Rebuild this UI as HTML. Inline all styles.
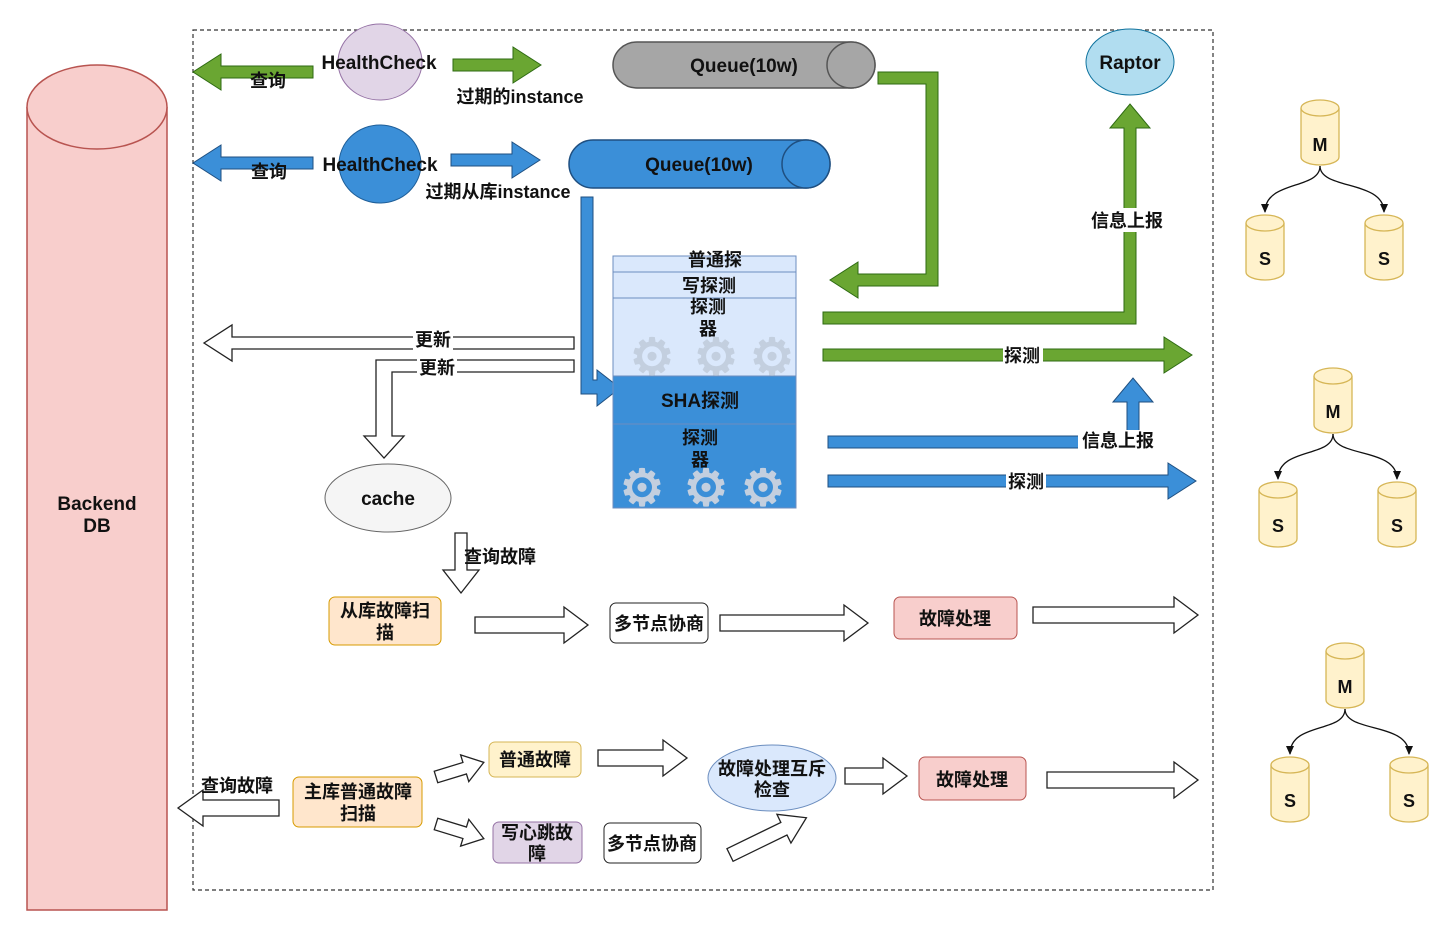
<!DOCTYPE html>
<html><head><meta charset="utf-8"><style>
html,body{margin:0;padding:0;background:#fff}
svg{display:block}
text{font-family:"Liberation Sans","Noto Sans CJK SC",sans-serif;font-weight:bold;fill:#111}
</style></head><body>
<svg width="1452" height="926" viewBox="0 0 1452 926" xmlns="http://www.w3.org/2000/svg">
<rect x="193" y="30" width="1020" height="860" fill="none" stroke="#333" stroke-width="1.2" stroke-dasharray="4,3"/>
<!-- Backend DB -->
<path d="M27,107 L27,910 L167,910 L167,107" fill="#f8cecc" stroke="#b85450" stroke-width="1.5"/>
<ellipse cx="97" cy="107" rx="70" ry="42" fill="#f8cecc" stroke="#b85450" stroke-width="1.5"/>
<text x="97" y="510" font-size="19" text-anchor="middle">Backend</text>
<text x="97" y="532" font-size="19" text-anchor="middle">DB</text>

<!-- green row -->
<polygon points="313,66 221,66 221,54 193,72 221,90 221,78 313,78" fill="#6aa632" stroke="#2d6a12"/>
<text x="268" y="87" font-size="18" text-anchor="middle">查询</text>
<ellipse cx="380" cy="62" rx="42" ry="38" fill="#e1d5e7" stroke="#9673a6"/>
<text x="379" y="69" font-size="19" text-anchor="middle">HealthCheck</text>
<polygon points="453,59 513,59 513,47 541,65 513,83 513,71 453,71" fill="#6aa632" stroke="#2d6a12"/>
<text x="520" y="103" font-size="18" text-anchor="middle">过期的instance</text>
<path d="M637,42 L851,42 A24,23 0 0 1 851,88 L637,88 A24,23 0 0 1 637,42 Z" fill="#a6a6a6" stroke="#555" stroke-width="1.5"/>
<ellipse cx="851" cy="65" rx="24" ry="23" fill="#a6a6a6" stroke="#555" stroke-width="1.5"/>
<text x="744" y="72" font-size="19" text-anchor="middle">Queue(10w)</text>

<!-- blue row -->
<polygon points="313,157 221,157 221,145 193,163 221,181 221,169 313,169" fill="#3b8fd8" stroke="#1f4f80"/>
<text x="269" y="178" font-size="18" text-anchor="middle">查询</text>
<ellipse cx="380" cy="164" rx="41" ry="39" fill="#3b8fd8" stroke="#1f5f99"/>
<text x="380" y="171" font-size="19" text-anchor="middle">HealthCheck</text>
<polygon points="451,154 512,154 512,142 540,160 512,178 512,166 451,166" fill="#3b8fd8" stroke="#1f4f80"/>
<text x="498" y="198" font-size="18" text-anchor="middle">过期从库instance</text>
<path d="M593,140 L806,140 A24,24 0 0 1 806,188 L593,188 A24,24 0 0 1 593,140 Z" fill="#3b8fd8" stroke="#1f4f80" stroke-width="1.5"/>
<ellipse cx="806" cy="164" rx="24" ry="24" fill="#3b8fd8" stroke="#1f4f80" stroke-width="1.5"/>
<text x="699" y="171" font-size="19" text-anchor="middle">Queue(10w)</text>
<polygon points="581,197 593,197 593,380 597,380 597,370 620,388 597,406 597,394 581,394" fill="#3b8fd8" stroke="#1f4f80"/>

<!-- green elbow from queue -->
<polygon points="878,72 938,72 938,286 858,286 858,298 830,280 858,262 858,274 926,274 926,84 878,84" fill="#6aa632" stroke="#2d6a12"/>

<!-- probe box -->
<rect x="613" y="256" width="183" height="16" fill="#dae8fc" stroke="#6c8ebf"/>
<rect x="613" y="272" width="183" height="26" fill="#dae8fc" stroke="#6c8ebf"/>
<rect x="613" y="298" width="183" height="78" fill="#dae8fc" stroke="#6c8ebf"/>
<rect x="613" y="376" width="183" height="48" fill="#3b8fd8" stroke="#6c8ebf"/>
<rect x="613" y="424" width="183" height="84" fill="#3b8fd8" stroke="#6c8ebf"/>
<text x="715" y="266" font-size="18" text-anchor="middle">普通探</text>
<text x="709" y="292" font-size="18" text-anchor="middle">写探测</text>
<text x="708" y="313" font-size="18" text-anchor="middle">探测</text>
<text x="708" y="335" font-size="18" text-anchor="middle">器</text>
<g font-size="50" text-anchor="middle" style="font-family:'DejaVu Sans',sans-serif;font-weight:normal">
<text x="652" y="374" style="fill:#c3cfdf">⚙</text><text x="716" y="374" style="fill:#c3cfdf">⚙</text><text x="772" y="374" style="fill:#c3cfdf">⚙</text>
<text x="642" y="505" style="fill:#c3cfdf">⚙</text><text x="706" y="505" style="fill:#c3cfdf">⚙</text><text x="763" y="505" style="fill:#c3cfdf">⚙</text>
</g>
<text x="700" y="407" font-size="19" text-anchor="middle">SHA探测</text>
<text x="700" y="444" font-size="18" text-anchor="middle">探测</text>
<text x="700" y="466" font-size="18" text-anchor="middle">器</text>

<!-- green to raptor & probe -->
<polygon points="823,312 1124,312 1124,128 1110,128 1130,104 1150,128 1136,128 1136,324 823,324" fill="#6aa632" stroke="#2d6a12"/>
<rect x="1086" y="208" width="82" height="24" fill="#fff"/>
<text x="1127" y="227" font-size="18" text-anchor="middle">信息上报</text>
<ellipse cx="1130" cy="62" rx="44" ry="33" fill="#b1ddf0" stroke="#10739e"/>
<text x="1130" y="69" font-size="19" text-anchor="middle">Raptor</text>
<polygon points="823,349 1164,349 1164,337 1192,355 1164,373 1164,361 823,361" fill="#6aa632" stroke="#2d6a12"/>
<rect x="1003" y="345" width="40" height="22" fill="#fff"/>
<text x="1022" y="362" font-size="18" text-anchor="middle">探测</text>

<!-- blue info & probe -->
<polygon points="828,436 1127,436 1127,402 1113,402 1133,378 1153,402 1139,402 1139,448 828,448" fill="#3b8fd8" stroke="#1f4f80"/>
<rect x="1078" y="430" width="80" height="22" fill="#fff"/>
<text x="1118" y="447" font-size="18" text-anchor="middle">信息上报</text>
<polygon points="828,475 1168,475 1168,463 1196,481 1168,499 1168,487 828,487" fill="#3b8fd8" stroke="#1f4f80"/>
<rect x="1006" y="471" width="40" height="22" fill="#fff"/>
<text x="1026" y="488" font-size="18" text-anchor="middle">探测</text>

<!-- update arrows -->
<polygon points="574,337 232,337 232,325 204,343 232,361 232,349 574,349" fill="#fff" stroke="#222" stroke-width="1.3"/>
<rect x="413" y="329" width="40" height="22" fill="#fff"/>
<text x="433" y="346" font-size="18" text-anchor="middle">更新</text>
<polygon points="574,360 376,360 376,436 364,436 384,458 404,436 392,436 392,372 574,372" fill="#fff" stroke="#222" stroke-width="1.3"/>
<rect x="417" y="357" width="40" height="22" fill="#fff"/>
<text x="437" y="374" font-size="18" text-anchor="middle">更新</text>
<ellipse cx="388" cy="498" rx="63" ry="34" fill="#f5f5f5" stroke="#666"/>
<text x="388" y="505" font-size="19" text-anchor="middle">cache</text>
<polygon points="455,533 467,533 467,570 479,570 461,593 443,570 455,570" fill="#fff" stroke="#222" stroke-width="1.3"/>
<text x="500" y="563" font-size="18" text-anchor="middle">查询故障</text>

<!-- slave fault row -->
<rect x="329" y="597" width="112" height="48" rx="6" fill="#ffe6cc" stroke="#d79b00"/>
<text x="385" y="617" font-size="18" text-anchor="middle">从库故障扫</text>
<text x="385" y="639" font-size="18" text-anchor="middle">描</text>
<polygon points="475,617 564,617 564,607 588,625 564,643 564,633 475,633" fill="#fff" stroke="#222" stroke-width="1.3"/>
<rect x="610" y="603" width="98" height="40" rx="6" fill="#fff" stroke="#222"/>
<text x="659" y="630" font-size="18" text-anchor="middle">多节点协商</text>
<polygon points="720,615 844,615 844,605 868,623 844,641 844,631 720,631" fill="#fff" stroke="#222" stroke-width="1.3"/>
<rect x="894" y="597" width="123" height="42" rx="6" fill="#f8cecc" stroke="#b85450"/>
<text x="955" y="625" font-size="18" text-anchor="middle">故障处理</text>
<polygon points="1033,607 1174,607 1174,597 1198,615 1174,633 1174,623 1033,623" fill="#fff" stroke="#222" stroke-width="1.3"/>

<!-- master fault row -->
<polygon points="279,800 203,800 203,790 178,808 203,826 203,816 279,816" fill="#fff" stroke="#222" stroke-width="1.3"/>
<text x="237" y="792" font-size="18" text-anchor="middle">查询故障</text>
<rect x="293" y="777" width="129" height="50" rx="6" fill="#ffe6cc" stroke="#d79b00"/>
<text x="358" y="798" font-size="18" text-anchor="middle">主库普通故障</text>
<text x="358" y="820" font-size="18" text-anchor="middle">扫描</text>
<polygon transform="translate(436,777) rotate(-17)" points="0,-6 30,-6 30,-14 50,0 30,14 30,6 0,6" fill="#fff" stroke="#222" stroke-width="1.3"/>
<polygon transform="translate(436,824) rotate(17)" points="0,-6 30,-6 30,-14 50,0 30,14 30,6 0,6" fill="#fff" stroke="#222" stroke-width="1.3"/>
<rect x="489" y="742" width="92" height="35" rx="6" fill="#fff2cc" stroke="#d6b656"/>
<text x="535" y="766" font-size="18" text-anchor="middle">普通故障</text>
<rect x="493" y="822" width="89" height="41" rx="6" fill="#e1d5e7" stroke="#9673a6"/>
<text x="537" y="839" font-size="18" text-anchor="middle">写心跳故</text>
<text x="537" y="860" font-size="18" text-anchor="middle">障</text>
<rect x="604" y="823" width="97" height="40" rx="6" fill="#fff" stroke="#222"/>
<text x="652" y="850" font-size="18" text-anchor="middle">多节点协商</text>
<polygon points="598,750 663,750 663,740 687,758 663,776 663,766 598,766" fill="#fff" stroke="#222" stroke-width="1.3"/>
<ellipse cx="772" cy="778" rx="64" ry="33" fill="#dae8fc" stroke="#6c8ebf"/>
<text x="772" y="775" font-size="18" text-anchor="middle">故障处理互斥</text>
<text x="772" y="796" font-size="18" text-anchor="middle">检查</text>
<polygon transform="translate(730,855) rotate(-26)" points="0,-7 60,-7 60,-16 85,0 60,16 60,7 0,7" fill="#fff" stroke="#222" stroke-width="1.3"/>
<polygon points="845,768 883,768 883,758 907,776 883,794 883,784 845,784" fill="#fff" stroke="#222" stroke-width="1.3"/>
<rect x="919" y="757" width="107" height="43" rx="6" fill="#f8cecc" stroke="#b85450"/>
<text x="972" y="786" font-size="18" text-anchor="middle">故障处理</text>
<polygon points="1047,772 1174,772 1174,762 1198,780 1174,798 1174,788 1047,788" fill="#fff" stroke="#222" stroke-width="1.3"/>

<!-- MS clusters -->
<defs>
<g id="cyl">
<path d="M-19,8 L-19,57 A19,8 0 0 0 19,57 L19,8" fill="#fff2cc" stroke="#d6b656" stroke-width="1.3"/>
<ellipse cx="0" cy="8" rx="19" ry="8" fill="#fff2cc" stroke="#d6b656" stroke-width="1.3"/>
</g>
</defs>
<g>
<use href="#cyl" x="1320" y="100"/><text x="1320" y="151" font-size="18" text-anchor="middle">M</text>
<use href="#cyl" x="1265" y="215"/><text x="1265" y="265" font-size="18" text-anchor="middle">S</text>
<use href="#cyl" x="1384" y="215"/><text x="1384" y="265" font-size="18" text-anchor="middle">S</text>
<path d="M1320,166 C1320,190 1265,180 1265,212" fill="none" stroke="#111" stroke-width="1.3"/>
<path d="M1320,166 C1320,190 1384,180 1384,212" fill="none" stroke="#111" stroke-width="1.3"/>
<path d="M1261,204 L1269,204 L1265,213 Z M1380,204 L1388,204 L1384,213 Z" fill="#111"/>
</g>
<g>
<use href="#cyl" x="1333" y="368"/><text x="1333" y="418" font-size="18" text-anchor="middle">M</text>
<use href="#cyl" x="1278" y="482"/><text x="1278" y="532" font-size="18" text-anchor="middle">S</text>
<use href="#cyl" x="1397" y="482"/><text x="1397" y="532" font-size="18" text-anchor="middle">S</text>
<path d="M1333,434 C1333,458 1278,447 1278,479" fill="none" stroke="#111" stroke-width="1.3"/>
<path d="M1333,434 C1333,458 1397,447 1397,479" fill="none" stroke="#111" stroke-width="1.3"/>
<path d="M1274,471 L1282,471 L1278,480 Z M1393,471 L1401,471 L1397,480 Z" fill="#111"/>
</g>
<g>
<use href="#cyl" x="1345" y="643"/><text x="1345" y="693" font-size="18" text-anchor="middle">M</text>
<use href="#cyl" x="1290" y="757"/><text x="1290" y="807" font-size="18" text-anchor="middle">S</text>
<use href="#cyl" x="1409" y="757"/><text x="1409" y="807" font-size="18" text-anchor="middle">S</text>
<path d="M1345,709 C1345,733 1290,722 1290,754" fill="none" stroke="#111" stroke-width="1.3"/>
<path d="M1345,709 C1345,733 1409,722 1409,754" fill="none" stroke="#111" stroke-width="1.3"/>
<path d="M1286,746 L1294,746 L1290,755 Z M1405,746 L1413,746 L1409,755 Z" fill="#111"/>
</g>
</svg>
</body></html>
